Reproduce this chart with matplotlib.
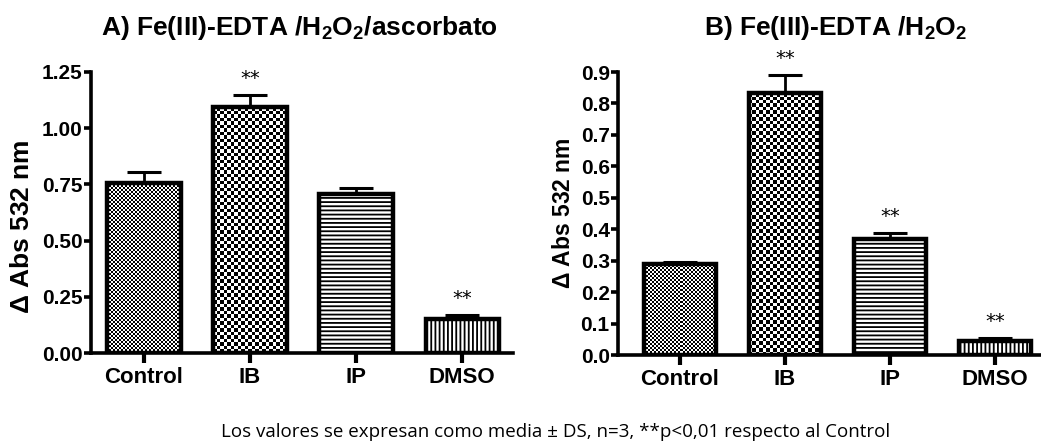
import numpy as np
import matplotlib
matplotlib.use("Agg")
import matplotlib.pyplot as plt
from matplotlib.ticker import FormatStrFormatter


# ------------------------------------------------------------
# Data
# ------------------------------------------------------------
CATEGORIES = ["Control", "IB", "IP", "DMSO"]

A_MEANS = [0.756, 1.094, 0.707, 0.151]
A_SD = [0.050, 0.054, 0.027, 0.018]
A_SIG = [False, True, False, True]
A_TICKS = [0.0, 0.25, 0.5, 0.75, 1.0, 1.25]

B_MEANS = [0.291, 0.833, 0.369, 0.045]
B_SD = [0.005, 0.057, 0.020, 0.009]
B_SIG = [False, True, True, True]
B_TICKS = [0.0, 0.1, 0.2, 0.3, 0.4, 0.5, 0.6, 0.7, 0.8, 0.9]

# fill style per category: checker cell size in px, or a hatch
FILLS = [("checker", 2.0), ("checker", 3.5), ("hatch", "----"), ("hatch", "||||")]

FOOTNOTE = "Los valores se expresan como media \u00b1 DS, n=3, **p<0,01 respecto al Control"


plt.rcParams["font.family"] = ["Liberation Sans", "DejaVu Sans"]
plt.rcParams["mathtext.fontset"] = "custom"
plt.rcParams["mathtext.rm"] = "Liberation Sans"
plt.rcParams["mathtext.bf"] = "Liberation Sans:bold"
plt.rcParams["hatch.linewidth"] = 1.3


# ------------------------------------------------------------
# Helpers
# ------------------------------------------------------------
def checker_fill(ax, bar, cell):
    x0, y0 = bar.get_x(), bar.get_y()
    x1, y1 = x0 + bar.get_width(), y0 + bar.get_height()
    p0 = ax.transData.transform((x0, y0))
    p1 = ax.transData.transform((x1, y1))
    nx = max(1, int(round(abs(p1[0] - p0[0]) / cell)))
    ny = max(1, int(round(abs(p1[1] - p0[1]) / cell)))
    grid = (np.add.outer(np.arange(ny), np.arange(nx)) % 2).astype(float)
    im = ax.imshow(grid, cmap="gray", extent=(x0, x1, y0, y1), aspect="auto",
                   interpolation="nearest", zorder=1, origin="lower")
    im.set_clip_path(bar)


def draw_panel(ax, means, sds, sig, ticks, xlim, ylabel_size, fmt, label_xy):
    x = np.arange(len(CATEGORIES))
    ax.set_xlim(*xlim)
    ax.set_ylim(0, ticks[-1])

    # upper error bars only, bars drawn on top of them
    ax.errorbar(x, means, yerr=[np.zeros(len(sds)), sds], fmt="none",
                ecolor="black", elinewidth=2, capsize=12, capthick=2.2, zorder=0.5)

    bars = ax.bar(x, means, width=0.69, facecolor="white", edgecolor="black",
                  linewidth=3.2, zorder=2)
    for bar, (kind, arg) in zip(bars, FILLS):
        if kind == "checker":
            bar.set_facecolor("none")
            checker_fill(ax, bar, arg)
        else:
            bar.set_hatch(arg)

    for xi, m, s, flag in zip(x, means, sds, sig):
        if flag:
            ax.annotate("**", (xi, m + s), xytext=(0, 5), textcoords="offset points",
                        ha="center", va="bottom", fontsize=14, family="DejaVu Sans")

    ax.set_xlim(*xlim)
    ax.set_ylim(0, ticks[-1])
    ax.set_xticks(x)
    ax.set_xticklabels(CATEGORIES, fontsize=16, fontweight="bold")
    ax.set_yticks(ticks)
    ax.yaxis.set_major_formatter(FormatStrFormatter(fmt))
    for lab in ax.get_yticklabels():
        lab.set_fontsize(15)
        lab.set_fontweight("bold")

    ax.set_ylabel(r"$\mathregular{\Delta}$ Abs 532 nm", fontsize=ylabel_size,
                  fontweight="bold")
    ax.yaxis.set_label_coords(*label_xy)

    ax.spines["top"].set_visible(False)
    ax.spines["right"].set_visible(False)
    ax.spines["left"].set_linewidth(2.6)
    ax.spines["bottom"].set_linewidth(2.6)
    ax.tick_params(axis="y", direction="out", length=5, width=2.6, pad=1)
    ax.tick_params(axis="x", direction="out", length=7, width=3, pad=3)


# ------------------------------------------------------------
# Figure
# ------------------------------------------------------------
fig = plt.figure(figsize=(10.41, 4.46), dpi=100)

ax_a = fig.add_axes([0.0874, 0.2085, 0.4054, 0.6301])
draw_panel(ax_a, A_MEANS, A_SD, A_SIG, A_TICKS, (-0.5, 3.48), 19, "%.2f",
           (-0.135, 0.45))

ax_b = fig.add_axes([0.5937, 0.2040, 0.4063, 0.6345])
draw_panel(ax_b, B_MEANS, B_SD, B_SIG, B_TICKS, (-0.59, 3.44), 16.5, "%.1f",
           (-0.102, 0.5))

fig.text(0.288, 0.938, r"A) Fe(III)-EDTA /$\mathbf{H_2O_2}$/ascorbato",
         ha="center", va="center", fontsize=19, fontweight="bold")
fig.text(0.803, 0.938, r"B) Fe(III)-EDTA /$\mathbf{H_2O_2}$",
         ha="center", va="center", fontsize=19, fontweight="bold")

fig.text(0.534, 0.031, FOOTNOTE, ha="center", va="center", fontsize=13.5,
         family="Open Sans")

fig.savefig("out.png", dpi=100)
